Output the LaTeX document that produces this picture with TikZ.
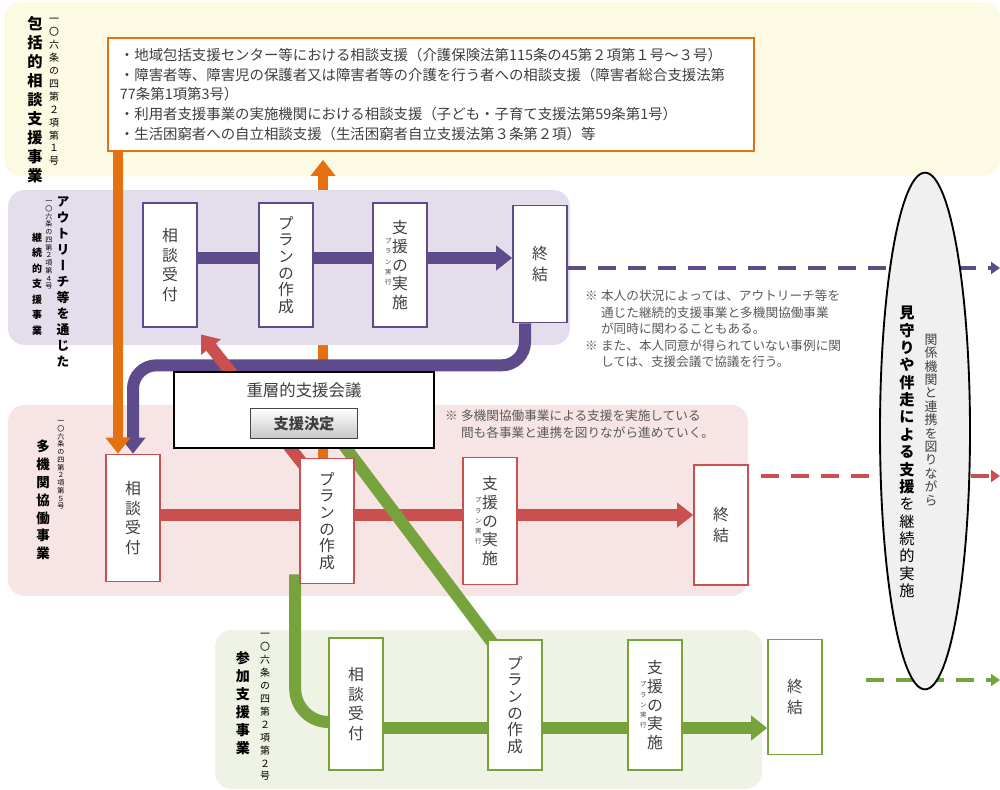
\documentclass[tikz,border=0pt]{standalone}
\usepackage{fontspec}
\setmainfont{Noto Sans CJK JP}
\newfontfamily\vjp[RawFeature=+vert]{Noto Sans CJK JP}
\usetikzlibrary{arrows.meta,positioning,shapes.geometric}
\definecolor{bandyellow}{HTML}{FCFAE2}
\definecolor{bandpurple}{HTML}{E4DEEC}
\definecolor{bandred}{HTML}{F7E4E4}
\definecolor{bandgreen}{HTML}{EEF3E6}
\definecolor{lnpurple}{HTML}{5E4B8B}
\definecolor{lnred}{HTML}{C9504F}
\definecolor{lngreen}{HTML}{76A33C}
\definecolor{lnorange}{HTML}{E5700F}
\definecolor{txtgray}{HTML}{3F3F3F}
\definecolor{notegray}{HTML}{5A5A5A}
\pgfdeclarelayer{back}
\pgfdeclarelayer{mid}
\pgfsetlayers{back,mid,main}
% one character per line
\newcommand\vtxt[2][1.15em]{\vbox{\baselineskip=#1\relax\lineskiplimit=-\maxdimen\vtxtaux#2\relax}}
\def\vtxtaux#1{\ifx#1\relax\else\ifcat\noexpand#1\relax#1\else\hbox to 1em{\hss#1\hss}\fi\expandafter\vtxtaux\fi}
\newcommand\kome{※\hspace{0.25em}}
\tikzset{
    band/.style={fill=#1,rounded corners=5mm},
    flowbox/.style={draw=#1,fill=white,line width=1.4pt,minimum width=16.2mm,minimum height=37.2mm,inner sep=0pt,text=txtgray,font=\vjp\fontsize{13.5pt}{13.5pt}\selectfont},
    subtext/.style={inner sep=0pt,text=txtgray,font=\vjp\fontsize{5.5pt}{5.5pt}\selectfont},
    flow/.style={draw=#1,line width=3.6mm,-{Triangle[width=7.2mm,length=4.8mm]}},
    link/.style={draw=#1,line width=3.6mm},
    trail/.style={draw=#1,line width=1.1mm,dash pattern=on 5.4mm off 3.6mm,-{Triangle[width=3.6mm,length=2.7mm]}},
    grouplabel/.style={inner sep=0pt,text=black,font=\vjp\bfseries\fontsize{#1}{#1}\selectfont},
    lawref/.style={inner sep=0pt,text=black,font=\vjp\fontsize{#1}{#1}\selectfont},
    note/.style={inner sep=0pt,anchor=north west,align=left,text=notegray,font=\fontsize{10.8pt}{14pt}\selectfont},
    council/.style={draw=black,line width=2.2pt,fill=white,minimum width=78mm,minimum height=22.8mm},
    decision/.style={draw=gray!55!black,line width=0.8pt,top color=white,bottom color=gray!45,minimum width=32mm,minimum height=9mm,inner sep=0pt,font=\bfseries\fontsize{13pt}{13pt}\selectfont,text=txtgray}
}

\begin{document}
\begin{tikzpicture}[x=0.3mm,y=-0.3mm]
  \useasboundingbox (0,0) rectangle (1000,789);
  \coordinate (prow) at (0,258);
  \coordinate (rrow) at (0,515);
  \coordinate (grow) at (0,728);
  \coordinate (pend) at (1000,268);
  \coordinate (rend) at (1000,476);
  \coordinate (gend) at (1000,680);

  % Consultation sources
  \node[draw=lnorange,line width=1.6pt,fill=white,anchor=north west,minimum width=193.8mm,minimum height=33.9mm,text width=186.6mm,inner xsep=3.6mm,align=left,text=txtgray,font=\fontsize{12.3pt}{17pt}\selectfont] (sources) at (107,37)
    {・地域包括支援センター等における相談支援（介護保険法第115条の45第２項第１号～３号）\\
     ・障害者等、障害児の保護者又は障害者等の介護を行う者への相談支援（障害者総合支援法第\\
     77条第1項第3号）\\
     ・利用者支援事業の実施機関における相談支援（子ども・子育て支援法第59条第1号）\\
     ・生活困窮者への自立相談支援（生活困窮者自立支援法第３条第２項）等};

  % Group labels
  \node[grouplabel=13pt] (topname) at (35,100) {\vtxt[1.25em]{包括的相談支援事業}};
  \node[lawref=8.5pt] (toplaw) at (54,92) {\vtxt[1.3em]{一〇六条の四第２項第１号}};
  \node[grouplabel=11pt] (outname) at (63,282) {\vtxt[1.24em]{アウトリーチ等を通じた}};
  \node[grouplabel=8.5pt] (outname2) at (37,284) {\vtxt[1.55em]{継続的支援事業}};
  \node[lawref=6pt] (outlaw) at (49,245) {\vtxt[1.1em]{一〇六条の四第２項第４号}};
  \node[grouplabel=11.5pt] (multiname) at (43,500) {\vtxt[1.33em]{多機関協働事業}};
  \node[lawref=6pt] (multilaw) at (61,465) {\vtxt[1.1em]{一〇六条の四第２項第５号}};
  \node[grouplabel=12pt] (joinname) at (243,703) {\vtxt[1.28em]{参加支援事業}};
  \node[lawref=8.5pt] (joinlaw) at (265,707) {\vtxt[1.3em]{一〇六条の四第２項第２号}};

  % Outreach steps
  \node[flowbox=lnpurple] (pA1) at (170,265) {\vtxt[1.25em]{相談受付}};
  \node[flowbox=lnpurple] (pA2) at (286,265) {\vtxt[1.05em]{プランの作成}};
  \node[flowbox=lnpurple] (pA3) at (400,265) {\vtxt[1.2em]{支援の実施}};
  \node[subtext] (pA3s) at ([xshift=-3.5mm,yshift=1mm]pA3.center) {\vtxt[1.6em]{プラン実行}};
  \node[flowbox=lnpurple,minimum height=35.1mm] (pA4) at (540,264) {\vtxt[1.35em]{終結}};

  % Multi-agency steps
  \node[flowbox=lnred,minimum height=38.1mm] (rA1) at (133,518) {\vtxt[1.25em]{相談受付}};
  \node[flowbox=lnred,minimum height=37.5mm] (rA2) at (327,521) {\vtxt[1.05em]{プランの作成}};
  \node[flowbox=lnred,minimum height=38.1mm] (rA3) at (490,521) {\vtxt[1.2em]{支援の実施}};
  \node[subtext] (rA3s) at ([xshift=-3.5mm,yshift=0mm]rA3.center) {\vtxt[1.6em]{プラン実行}};
  \node[flowbox=lnred,minimum height=36mm] (rA4) at (721,525) {\vtxt[1.35em]{終結}};

  % Participation steps
  \node[flowbox=lngreen,minimum height=39.6mm] (gA1) at (356,704) {\vtxt[1.25em]{相談受付}};
  \node[flowbox=lngreen,minimum height=39mm] (gA2) at (515,705) {\vtxt[1.05em]{プランの作成}};
  \node[flowbox=lngreen,minimum height=39mm] (gA3) at (655,705) {\vtxt[1.2em]{支援の実施}};
  \node[subtext] (gA3s) at ([xshift=-3.5mm,yshift=0mm]gA3.center) {\vtxt[1.6em]{プラン実行}};
  \node[flowbox=lngreen,minimum height=34.5mm] (gA4) at (795,697) {\vtxt[1.35em]{終結}};

  % Support meeting
  \node[council] (council) at (304,410) {};
  \node[text=txtgray,font=\fontsize{14pt}{14pt}\selectfont] (councilname) at ([yshift=-6mm]council.north) {重層的支援会議};
  \node[decision] (decision) at ([yshift=-15.9mm]council.north) {支援決定};

  % Notes
  \node[note] (note1) at (585,290) {\kome 本人の状況によっては、アウトリーチ等を\\
    \hspace*{1.25em}通じた継続的支援事業と多機関協働事業\\
    \hspace*{1.25em}が同時に関わることもある。\\
    \kome また、本人同意が得られていない事例に関\\
    \hspace*{1.25em}しては、支援会議で協議を行う。};
  \node[note] (note2) at (445,410) {\kome 多機関協働事業による支援を実施している\\
    \hspace*{1.25em}間も各事業と連携を図りながら進めていく。};

  % Continuous support
  \node[draw=black,ellipse,line width=1.6pt,fill=gray!12,minimum width=27mm,minimum height=155mm] (watch) at (925,431) {};
  \node[inner sep=0pt,text=black,font=\vjp\fontsize{13pt}{13pt}\selectfont] (watchL) at (907,452) {\vtxt[1.14em]{\bfseries 見守りや伴走による支援\mdseries を継続的実施}};
  \node[inner sep=0pt,text=txtgray,font=\vjp\fontsize{11pt}{11pt}\selectfont] (watchR) at (931,420) {\vtxt[1.04em]{関係機関と連携を図りながら}};

  \begin{pgfonlayer}{back}
    \fill[band=bandyellow] (4,2) rectangle (1000,176);
    \fill[band=bandred] (8,405) rectangle (748,596);
    \fill[band=bandgreen] (215,630) rectangle (762,789);
    \draw[flow=lnorange,line width=3.2mm,shorten >=2.4mm] ([xshift=-1.2mm]rA2.north) -- ([xshift=-1.2mm]rA2.north |- sources.south);
    \fill[band=bandpurple] (8,190) rectangle (570,345);
  \end{pgfonlayer}

  \begin{pgfonlayer}{mid}
    % Outreach flow
    \draw[flow=lnpurple] (pA1.east |- prow) -- (pA4.west |- prow);
    \draw[trail=lnpurple] (pA4.east |- pend) -- (pend);
    \draw[flow=lnpurple,rounded corners=7mm] ([xshift=-4.5mm]pA4.south) -- ++(0,42) -| (rA1.north);
    % Referral from consultation
    \draw[flow=lnorange,line width=3.2mm] ([xshift=-4.5mm]rA1.north |- sources.south) -- ([xshift=-4.5mm]rA1.north);
    % Multi-agency flow
    \draw[flow=lnred] (rA1.east |- rrow) -- (rA4.west |- rrow);
    \draw[trail=lnred] ([xshift=3.6mm]rA4.east |- rend) -- (rend);
    \draw[flow=lnred] ([xshift=2mm,yshift=-3mm]rA2.north west) -- ([xshift=1mm,yshift=-2mm]pA1.south east);
    % Participation flow
    \draw[link=lngreen,rounded corners=10mm] ([xshift=-1.2mm,yshift=3mm]rA2.south west) |- ([yshift=-5.4mm]gA1.west);
    \draw[link=lngreen] ([xshift=4mm]council.center) -- ([xshift=3mm,yshift=-3mm]gA2.north west);
    \draw[flow=lngreen] (gA1.east |- grow) -- (gA4.west |- grow);
    \draw[trail=lngreen] ([xshift=13mm]gA4.east |- gend) -- (gend);
  \end{pgfonlayer}
\end{tikzpicture}
\end{document}
